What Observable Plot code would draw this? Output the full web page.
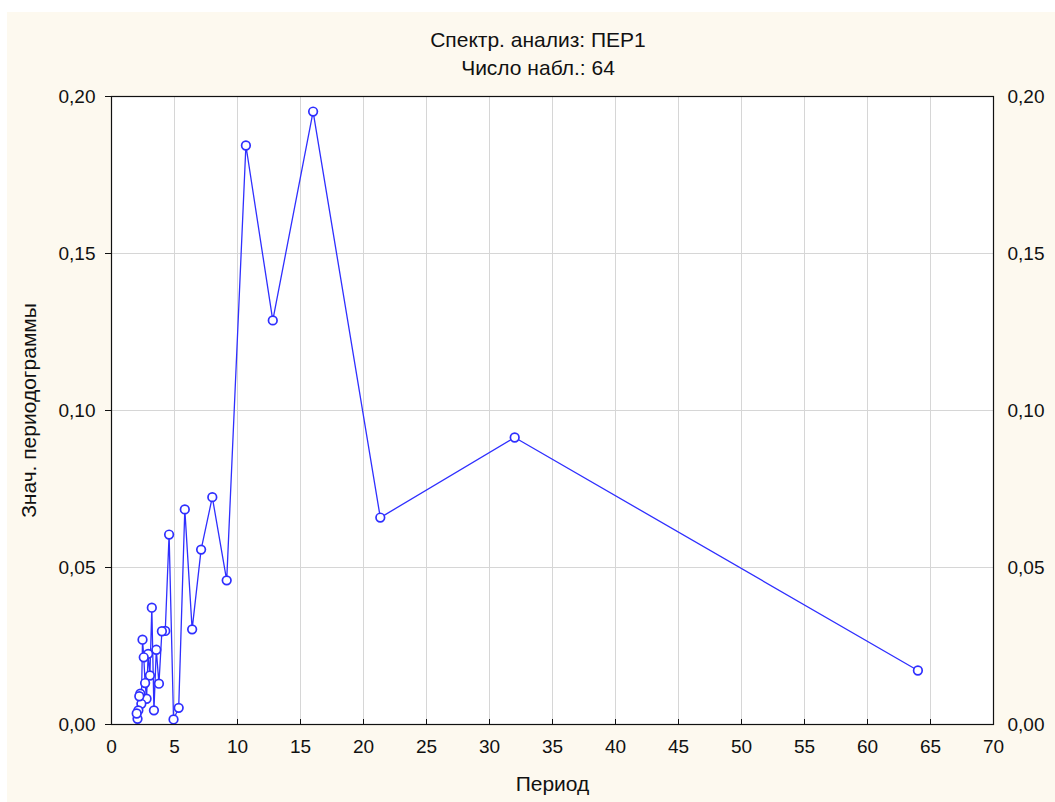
<!DOCTYPE html>
<html>
<head>
<meta charset="utf-8">
<script src="https://cdn.jsdelivr.net/npm/d3@7"></script>
<script src="https://cdn.jsdelivr.net/npm/@observablehq/plot@0.6"></script>
<style>
  html, body { margin: 0; padding: 0; background: #ffffff; }
  body { position: relative; width: 1055px; height: 802px; overflow: hidden; font-family: "Liberation Sans", Arial, sans-serif; }
  #bg { position: absolute; left: 7px; top: 12px; right: 0; bottom: 0; background: #fdf9ef; z-index: 0; }
  #title, #chart { position: relative; z-index: 1; }
  #title { height: 86px; box-sizing: border-box; padding-top: 26px; text-align: center; font-size: 21px; line-height: 28px; color: #111; padding-left: 21px; }
  #chart svg { display: block; }
</style>
</head>
<body>
<div id="bg"></div>
<div id="title">Спектр. анализ: ПЕР1<br>Число набл.: 64</div>
<div id="chart"></div>
<script>
// Period values (64 / frequency index) as read
const periods = [64, 32, 21.333, 16, 12.8, 10.667, 9.143, 8, 7.111, 6.4, 5.818, 5.333, 4.923, 4.571, 4.267, 4,
  3.765, 3.556, 3.368, 3.2, 3.048, 2.909, 2.783, 2.667, 2.56, 2.462, 2.370, 2.286, 2.207, 2.133, 2.065, 2];
// Periodogram values
const values = [0.0172, 0.0914, 0.0659, 0.1952, 0.1287, 0.1844, 0.0459, 0.0724, 0.0557, 0.0303, 0.0685, 0.0053, 0.0016, 0.0605, 0.0298, 0.0297,
  0.0130, 0.0238, 0.0045, 0.0372, 0.0156, 0.0225, 0.0082, 0.0132, 0.0214, 0.0270, 0.0066, 0.0098, 0.0090, 0.0045, 0.0018, 0.0035];
const xTicks = [0, 5, 10, 15, 20, 25, 30, 35, 40, 45, 50, 55, 60, 65, 70];
const yTicks = [0, 0.05, 0.10, 0.15, 0.20];

const data = periods.map((p, i) => ({period: p, value: values[i]}));
const fmt = d => d3.format(".2f")(d).replace(".", ",");
const blue = "#2f2fff";

const chart = Plot.plot({
  width: 1055,
  height: 716,
  marginLeft: 111,
  marginRight: 62,
  marginTop: 10,
  marginBottom: 78,
  style: {background: "transparent", fontFamily: "'Liberation Sans', Arial, sans-serif", fontSize: "19px", color: "#111"},
  x: {domain: [0, 70]},
  y: {domain: [0, 0.2]},
  marks: [
    Plot.frame({fill: "white", stroke: "none"}),
    Plot.gridX(xTicks, {stroke: "#d6d6d6", strokeOpacity: 1}),
    Plot.gridY(yTicks, {stroke: "#d6d6d6", strokeOpacity: 1}),
    Plot.axisX(xTicks, {tickSize: -5, text: null, label: null, stroke: "#111"}),
    Plot.axisX(xTicks, {tickSize: 0, tickPadding: 15, label: null, fontSize: 19}),
    Plot.axisY(yTicks, {anchor: "left", tickSize: 6, tickPadding: 10, tickFormat: fmt, label: null, fontSize: 19}),
    Plot.axisY(yTicks, {anchor: "right", tickSize: 0, tickPadding: 14, tickFormat: fmt, label: null, fontSize: 19}),
    Plot.text(["Период"], {frameAnchor: "bottom", dy: 66, fontSize: 21, fill: "#111"}),
    Plot.text(["Знач. периодограммы"], {frameAnchor: "left", textAnchor: "middle", dx: -82, rotate: -90, fontSize: 21, fill: "#111"}),
    Plot.line(data, {x: "period", y: "value", stroke: blue, strokeWidth: 1.3}),
    Plot.dot(data, {x: "period", y: "value", r: 4.3, stroke: blue, strokeWidth: 1.7, fill: "white"}),
    Plot.frame({stroke: "#111", strokeWidth: 1.2})
  ]
});
document.getElementById("chart").appendChild(chart);
</script>
</body>
</html>
